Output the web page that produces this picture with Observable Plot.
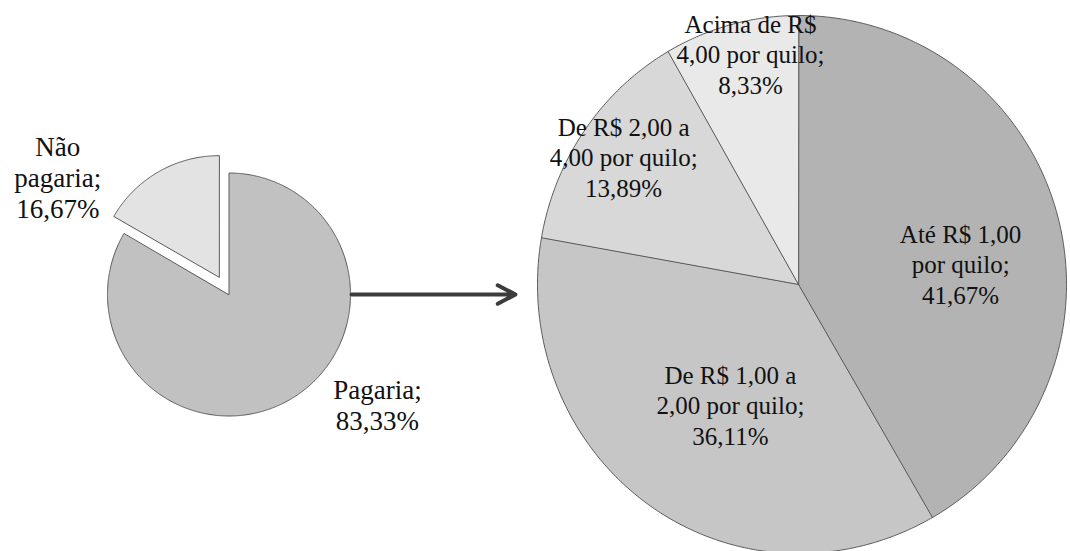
<!DOCTYPE html>
<html>
<head>
<meta charset="utf-8">
<script src="https://cdn.jsdelivr.net/npm/d3@7"></script>
<script src="https://cdn.jsdelivr.net/npm/@observablehq/plot@0.6"></script>
<style>
  html, body { margin: 0; padding: 0; background: #fff; }
  #chart svg { display: block; }
  #chart svg text { font-family: "Liberation Serif", "Times New Roman", serif !important; }
</style>
</head>
<body>
<div id="chart"></div>
<script>
// Disposição a pagar pelo produto
const respostas = ["Pagaria", "Não pagaria"];
const respostasPct = [83.33, 16.67];
const respostasRotulo = ["Pagaria;\n83,33%", "Não\npagaria;\n16,67%"];

// Quanto pagaria (entre os que pagariam)
const faixas = [
  "Até R$ 1,00 por quilo",
  "De R$ 1,00 a 2,00 por quilo",
  "De R$ 2,00 a 4,00 por quilo",
  "Acima de R$ 4,00 por quilo"
];
const faixasPct = [41.67, 36.11, 13.89, 8.33];
const faixasRotulo = [
  "Até R$ 1,00\npor quilo;\n41,67%",
  "De R$ 1,00 a\n2,00 por quilo;\n36,11%",
  "De R$ 2,00 a\n4,00 por quilo;\n13,89%",
  "Acima de R$\n4,00 por quilo;\n8,33%"
];

// Layout: centre, radii ([left, right] horizontally, vertical), slice colours,
// explosion and label placement (label angle in degrees clockwise from 12 o'clock,
// distance as a fraction of the radius)
const W = 1070, H = 551;
const SERIF = "Liberation Serif";
const pies = [
  {
    cx: 228.5, cy: 294, rx: [121.5, 121.5], ry: 121.5, fontSize: 27, lineHeight: 1.15,
    names: respostas, values: respostasPct, labels: respostasRotulo,
    colors: ["#c1c1c1", "#e3e3e3"],
    explode: [0, 20],
    labelAt: [[126.5, 1.52], [304.5, 1.71]]
  },
  {
    cx: 798, cy: 284, rx: [261, 268], ry: 269, fontSize: 25, lineHeight: 1.22,
    names: faixas, values: faixasPct, labels: faixasRotulo,
    colors: ["#b3b3b3", "#c6c6c6", "#d8d8d8", "#e9e9e9"],
    explode: [0, 0, 0, 0],
    labelAt: [[82.6, 0.61], [210.3, 0.517], [305.4, 0.822], [347.9, 0.878]]
  }
];

const rad = Math.PI / 180;
const radiusX = (p, t) => (Math.sin(t) >= 0 ? p.rx[1] : p.rx[0]);

// Polygon outline of each slice, from d3.pie angles
function slicePolygons(p, pi) {
  const arcs = d3.pie().sort(null).value(d => d)(p.values);
  return arcs.map((a, i) => {
    const mid = (a.startAngle + a.endAngle) / 2;
    const ox = p.explode[i] * Math.sin(mid);
    const oy = -p.explode[i] * Math.cos(mid);
    const cx = p.cx + ox, cy = p.cy + oy;
    const pts = [{x: cx, y: cy}];
    const steps = Math.max(8, Math.ceil((a.endAngle - a.startAngle) / (0.5 * rad)));
    for (let k = 0; k <= steps; k++) {
      const t = a.startAngle + (a.endAngle - a.startAngle) * k / steps;
      pts.push({x: cx + radiusX(p, t) * Math.sin(t), y: cy - p.ry * Math.cos(t)});
    }
    return {key: `${pi}-${i}`, name: p.names[i], color: p.colors[i], points: pts};
  });
}

function labelRows(p) {
  return p.labels.map((text, i) => {
    const [ang, f] = p.labelAt[i];
    const t = ang * rad;
    return {
      text,
      x: p.cx + f * radiusX(p, t) * Math.sin(t),
      y: p.cy - f * p.ry * Math.cos(t)
    };
  });
}

const sliceMarks = pies.flatMap((p, pi) =>
  slicePolygons(p, pi).map(s =>
    Plot.line(s.points, {
      x: "x", y: "y",
      curve: "linear-closed",
      fill: s.color,
      stroke: "#5a5a5a",
      strokeWidth: 1
    })
  )
);

const textMarks = pies.map(p =>
  Plot.text(labelRows(p), {
    x: "x", y: "y", text: "text",
    fontSize: p.fontSize,
    lineHeight: p.lineHeight,
    fontFamily: SERIF,
    fill: "#111"
  })
);

// Arrow linking the "Pagaria" slice to its breakdown
const [small, big] = pies;
const arrowData = [{x1: small.cx + small.rx[1], y1: small.cy, x2: big.cx - big.rx[0], y2: small.cy}];

const chart = Plot.plot({
  width: W,
  height: H,
  margin: 0,
  x: {domain: [0, W], range: [0, W], axis: null},
  y: {domain: [0, H], range: [0, H], axis: null},
  style: {background: "#fff", fontFamily: SERIF},
  marks: [
    ...sliceMarks,
    Plot.arrow(arrowData, {
      x1: "x1", y1: "y1", x2: "x2", y2: "y2",
      stroke: "#3c3c3c",
      strokeWidth: 4,
      headLength: 7.5,
      headAngle: 55,
      insetStart: 1,
      insetEnd: 22
    }),
    ...textMarks
  ]
});

d3.select(chart).selectAll("text").style("font-family", SERIF);
document.getElementById("chart").appendChild(chart);
</script>
</body>
</html>
